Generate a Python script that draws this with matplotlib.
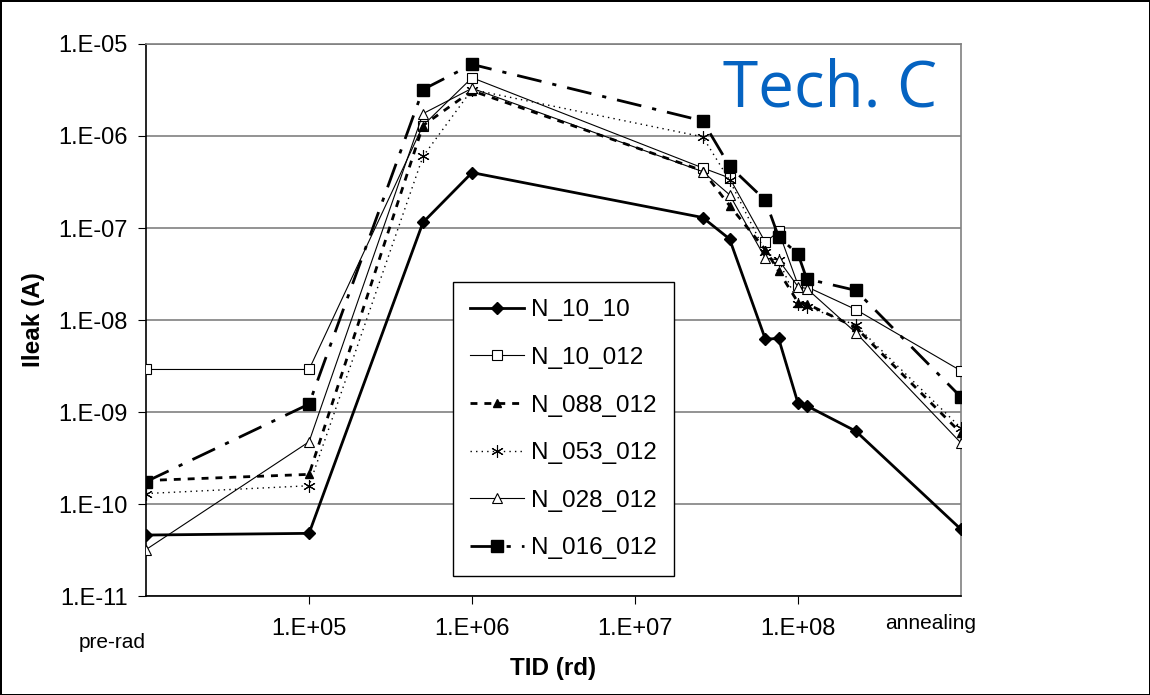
import numpy as np
import matplotlib
matplotlib.use('Agg')
import matplotlib.pyplot as plt
from matplotlib.ticker import FixedLocator, FuncFormatter, NullLocator

plt.rcParams['font.family'] = ['Liberation Sans', 'DejaVu Sans']

# dose points (pre-rad drawn at 1e4, annealing at 1e9)
dose = [1e4, 1e5, 5e5, 1e6, 2.6e7, 3.8e7, 6.3e7, 7.6e7, 1.0e8, 1.13e8, 2.26e8, 1e9]

n_10_10 = [4.6e-11, 4.8e-11, 1.15e-7, 4.0e-7, 1.3e-7, 7.6e-8, 6.2e-9, 6.3e-9, 1.24e-9, 1.17e-9, 6.2e-10, 5.3e-11]
n_10_012 = [2.9e-9, 2.9e-9, 1.3e-6, 4.3e-6, 4.5e-7, 3.5e-7, 7.0e-8, 9.2e-8, 2.4e-8, 2.3e-8, 1.3e-8, 2.8e-9]
n_088_012 = [1.8e-10, 2.1e-10, 1.3e-6, 3.1e-6, 4.2e-7, 1.75e-7, 5.8e-8, 3.4e-8, 1.55e-8, 1.5e-8, 8.3e-9, 5.9e-10]
n_053_012 = [1.3e-10, 1.58e-10, 6.0e-7, 3.2e-6, 9.8e-7, 3.3e-7, 5.5e-8, 4.5e-8, 1.5e-8, 1.4e-8, 8.8e-9, 6.7e-10]
n_028_012 = [3.2e-11, 4.75e-10, 1.75e-6, 3.3e-6, 4.1e-7, 2.3e-7, 4.7e-8, 4.5e-8, 2.3e-8, 2.2e-8, 7.3e-9, 4.6e-10]
n_016_012 = [1.75e-10, 1.22e-9, 3.2e-6, 6.0e-6, 1.46e-6, 4.7e-7, 2.0e-7, 8.0e-8, 5.2e-8, 2.8e-8, 2.1e-8, 1.45e-9]

x_ticks = [1e5, 1e6, 1e7, 1e8]
y_ticks = [1e-11, 1e-10, 1e-9, 1e-8, 1e-7, 1e-6, 1e-5]

fig = plt.figure(figsize=(11.5, 6.95), dpi=100)
fig.patch.set_edgecolor('black')
fig.patch.set_linewidth(2)
ax = fig.add_axes([0.127, 0.1424, 0.7087, 0.7943])

ax.plot(dose, n_10_10, color='black', lw=2.0, marker='D', ms=6.5, label='N_10_10', zorder=5)
ax.plot(dose, n_10_012, color='black', lw=0.8, marker='s', ms=7, mfc='white', mew=0.8,
        label='N_10_012', zorder=4)
ax.plot(dose, n_088_012, color='black', lw=2.0, ls=(0, (2.5, 2.5)), marker='^', ms=6,
        label='N_088_012', zorder=4)
ax.plot(dose, n_053_012, color='black', lw=1.0, ls=(0, (1, 3)), marker=(6, 2, 0), ms=9, mew=0.8,
        label='N_053_012', zorder=4)
ax.plot(dose, n_028_012, color='black', lw=0.8, marker='^', ms=7.5, mfc='white', mew=0.8,
        label='N_028_012', zorder=4)
ax.plot(dose, n_016_012, color='black', lw=2.0, ls=(0, (9, 4, 1.5, 4)), marker='s', ms=8,
        label='N_016_012', zorder=6)

ax.set_xscale('log')
ax.set_yscale('log')
ax.set_xlim(1e4, 1e9)
ax.set_ylim(1e-11, 1e-5)

ax.xaxis.set_major_locator(FixedLocator(x_ticks))
ax.xaxis.set_minor_locator(NullLocator())
ax.yaxis.set_major_locator(FixedLocator(y_ticks))
ax.yaxis.set_minor_locator(NullLocator())
fmt = FuncFormatter(lambda v, p: '1.E{:+03d}'.format(int(round(np.log10(v)))))
ax.xaxis.set_major_formatter(fmt)
ax.yaxis.set_major_formatter(fmt)
ax.tick_params(axis='both', direction='out', length=6, width=0.8, labelsize=17, color='black')
ax.tick_params(axis='y', pad=7)
ax.tick_params(axis='x', pad=10)

ax.grid(axis='y', color='#808080', lw=1.2)
ax.set_axisbelow(True)
ax.spines['left'].set_color('black')
ax.spines['bottom'].set_color('black')
ax.spines['right'].set_color('#808080')
ax.spines['top'].set_color('#808080')
for s in ax.spines.values():
    s.set_linewidth(1.2)

ax.text(0.0, -0.085, 'pre-rad', transform=ax.transAxes, ha='right', va='center', fontsize=15)
ax.text(0.963, -0.049, 'annealing', transform=ax.transAxes, ha='center', va='center', fontsize=15)

ax.set_xlabel('TID (rd)', fontsize=17.5, fontweight='bold', labelpad=12)
ax.set_ylabel('Ileak (A)', fontsize=17.5, fontweight='bold', labelpad=10)

ax.text(0.971, 0.975, 'Tech. C', transform=ax.transAxes, ha='right', va='top',
        fontsize=46, color='#0563C1', family=['Open Sans', 'DejaVu Sans'])

leg = ax.legend(loc='lower left', bbox_to_anchor=(0.377, 0.036), fontsize=17.5,
                frameon=True, fancybox=False, edgecolor='black', framealpha=1,
                handlelength=2.2, handletextpad=0.3, labelspacing=1.05,
                borderpad=0.7, borderaxespad=0)
leg.get_frame().set_linewidth(1.0)

fig.savefig('out.png', dpi=100, edgecolor=fig.get_edgecolor())
